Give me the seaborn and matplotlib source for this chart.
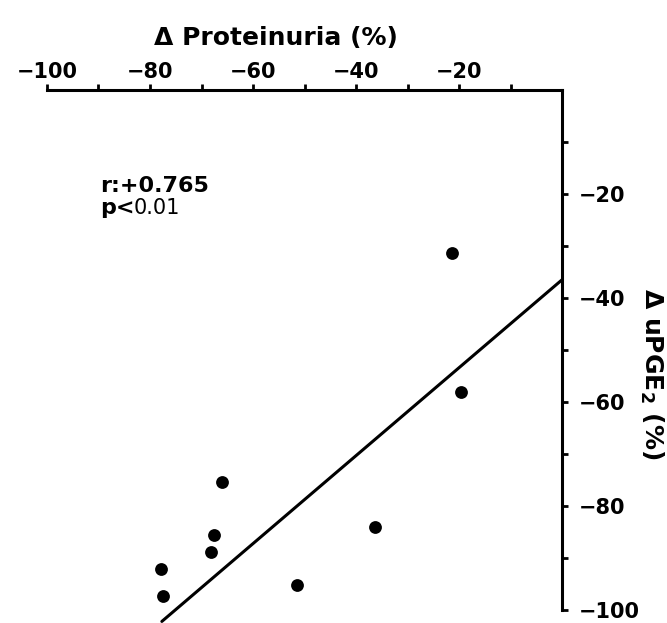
import matplotlib
matplotlib.use("Agg")
import matplotlib.pyplot as plt
import seaborn as sns
import pandas as pd

# Data
proteinuria = [-66.1, -67.6, -68.2, -77.9, -77.4, -51.4, -36.4, -21.4, -19.6]
upge2 = [-75.3, -85.6, -88.8, -92.1, -97.3, -95.1, -84.0, -31.3, -58.1]
line_x = [-77.7, 0.0]
line_y = [-102.2, -36.5]
x_major = [-100, -80, -60, -40, -20]
x_minor = [-90, -70, -50, -30, -10]
y_major = [-20, -40, -60, -80, -100]
y_minor = [-10, -30, -50, -70, -90]
x_labels = ["\u2212100", "\u221280", "\u221260", "\u221240", "\u221220"]
y_labels = ["\u221220", "\u221240", "\u221260", "\u221280", "\u2212100"]

sns.set_style("ticks")
plt.rcParams["font.family"] = ["DejaVu Sans"]
plt.rcParams["text.color"] = "black"
plt.rcParams["xtick.color"] = "black"
plt.rcParams["ytick.color"] = "black"
plt.rcParams["axes.labelcolor"] = "black"

df = pd.DataFrame({"x": proteinuria, "y": upge2})
ldf = pd.DataFrame({"x": line_x, "y": line_y})

fig = plt.figure(figsize=(6.67, 6.23), dpi=100)
ax = fig.add_axes([47 / 667, 1 - 610 / 623, (562 - 47) / 667, (610 - 90) / 623])

sns.scatterplot(data=df, x="x", y="y", ax=ax, color="black", s=85,
                edgecolor="black", linewidth=0, zorder=3)
sns.lineplot(data=ldf, x="x", y="y", ax=ax, color="black", linewidth=2.2,
             clip_on=False, zorder=2)

ax.set_xlim(-100, 0)
ax.set_ylim(-100, 0)
ax.set_xlabel("")
ax.set_ylabel("")

for side in ["left", "bottom"]:
    ax.spines[side].set_visible(False)
for side in ["top", "right"]:
    ax.spines[side].set_visible(True)
    ax.spines[side].set_linewidth(2.2)
    ax.spines[side].set_color("black")

ax.xaxis.tick_top()
ax.yaxis.tick_right()
ax.set_xticks(x_major)
ax.set_xticklabels(x_labels)
ax.set_xticks(x_minor, minor=True)
ax.set_yticks(y_major)
ax.set_yticklabels(y_labels)
ax.set_yticks(y_minor, minor=True)

ax.tick_params(axis="both", which="both", direction="out", length=4,
               width=2, color="black", labelcolor="black")
ax.tick_params(axis="x", which="major", pad=2, labelsize=15)
ax.tick_params(axis="y", which="major", pad=8, labelsize=15)
for lab in ax.get_xticklabels() + ax.get_yticklabels():
    lab.set_fontweight("bold")

fig.text(276 / 667, 1 - 38 / 623, "\u0394 Proteinuria (%)", ha="center",
         va="center", fontsize=18, fontweight="bold")
fig.text(652 / 667, 1 - 374 / 623, "\u0394 uPGE$_\\mathbf{2}$ (%)", ha="center",
         va="center", rotation=-90, fontsize=18, fontweight="bold")

fig.text(100 / 667, 1 - 186 / 623, "r:+0.765", ha="left", va="center",
         fontsize=16, fontweight="bold")
fig.text(100 / 667, 1 - 208 / 623, "p<", ha="left", va="center",
         fontsize=16, fontweight="bold")
fig.text(134 / 667, 1 - 208 / 623, "0.01", ha="left", va="center",
         fontsize=15)

fig.savefig("out.png", dpi=100)
